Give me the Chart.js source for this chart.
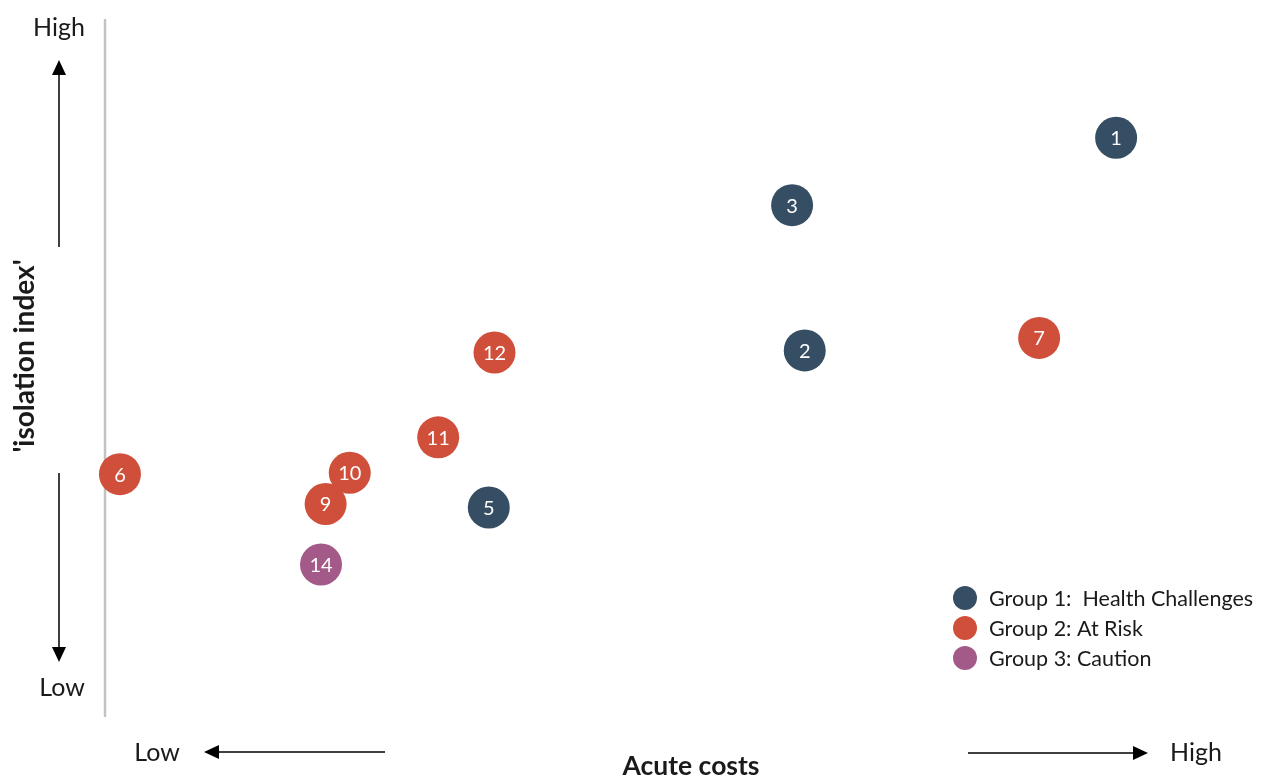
<!DOCTYPE html>
<html>
<head>
<meta charset="utf-8">
<title>Isolation index vs acute costs</title>
<script src="https://cdn.jsdelivr.net/npm/chart.js@4.4.1/dist/chart.umd.min.js"></script>
<style>
  html, body { margin: 0; padding: 0; background: #ffffff; }
  canvas { display: block; }
</style>
</head>
<body>
<canvas id="chart" width="1275" height="778"></canvas>
<script>
// cluster numbers and their positions (0-100 on both scales)
const group1Ids = ['1', '3', '2', '5'];
const group1Cost = [88.0, 59.8, 60.9, 33.4];
const group1Isolation = [83.2, 73.5, 52.6, 30.0];

const group2Ids = ['7', '12', '11', '6', '10', '9'];
const group2Cost = [81.3, 33.9, 29.0, 1.3, 21.3, 19.2];
const group2Isolation = [54.4, 52.3, 40.1, 34.8, 35.0, 30.5];

const group3Ids = ['14'];
const group3Cost = [18.8];
const group3Isolation = [21.8];

const groupNames = ['Group 1:  Health Challenges', 'Group 2: At Risk', 'Group 3: Caution'];
const groupColors = ['#364e63', '#d04f3a', '#a45a88'];

const FONT = 'Lato, Calibri, "Open Sans", sans-serif';

const toPoints = (xs, ys, ids) => xs.map((x, i) => ({ x: x, y: ys[i], id: ids[i] }));

const datasets = [
  toPoints(group1Cost, group1Isolation, group1Ids),
  toPoints(group2Cost, group2Isolation, group2Ids),
  toPoints(group3Cost, group3Isolation, group3Ids),
].map((pts, i) => ({
  label: groupNames[i],
  data: pts,
  backgroundColor: groupColors[i],
  borderColor: groupColors[i],
  pointRadius: 21,
  pointHoverRadius: 21,
  borderWidth: 0,
  clip: false,
}));

function arrowHead(ctx, x, y, dir) {
  // dir: 'up' | 'down' | 'left' | 'right', (x, y) is the tip
  const len = 15, half = 7;
  ctx.beginPath();
  if (dir === 'up') { ctx.moveTo(x, y); ctx.lineTo(x - half, y + len); ctx.lineTo(x + half, y + len); }
  if (dir === 'down') { ctx.moveTo(x, y); ctx.lineTo(x - half, y - len); ctx.lineTo(x + half, y - len); }
  if (dir === 'left') { ctx.moveTo(x, y); ctx.lineTo(x + len, y - half); ctx.lineTo(x + len, y + half); }
  if (dir === 'right') { ctx.moveTo(x, y); ctx.lineTo(x - len, y - half); ctx.lineTo(x - len, y + half); }
  ctx.closePath();
  ctx.fill();
}

function line(ctx, x1, y1, x2, y2) {
  ctx.beginPath();
  ctx.moveTo(x1, y1);
  ctx.lineTo(x2, y2);
  ctx.stroke();
}

// axis line, arrows, axis words and the legend
const decorations = {
  id: 'decorations',
  beforeDatasetsDraw(chart) {
    const ctx = chart.ctx;
    const x0 = chart.scales.x.getPixelForValue(0);
    ctx.save();
    ctx.strokeStyle = '#c3c3c3';
    ctx.lineWidth = 2.5;
    line(ctx, x0, 19, x0, 717);
    ctx.restore();
  },
  afterDraw(chart) {
    const ctx = chart.ctx;
    ctx.save();
    ctx.fillStyle = '#000000';
    ctx.strokeStyle = '#000000';
    ctx.lineWidth = 1.5;

    // vertical arrows
    line(ctx, 59, 74, 59, 247);
    arrowHead(ctx, 59, 60, 'up');
    line(ctx, 59, 473, 59, 648);
    arrowHead(ctx, 59, 662, 'down');

    // horizontal arrows
    line(ctx, 218, 752, 385, 752);
    arrowHead(ctx, 204, 752, 'left');
    line(ctx, 968, 753, 1134, 753);
    arrowHead(ctx, 1148, 753, 'right');

    ctx.fillStyle = '#1a1a1a';
    ctx.textBaseline = 'middle';
    ctx.textAlign = 'center';
    ctx.font = '25px ' + FONT;
    ctx.fillText('High', 59, 28);
    ctx.fillText('Low', 62, 688);
    ctx.fillText('Low', 157, 753);
    ctx.fillText('High', 1196, 753);

    ctx.font = 'bold 26.5px ' + FONT;
    ctx.fillText('Acute costs', 691, 766);
    ctx.save();
    ctx.translate(25, 356);
    ctx.rotate(-Math.PI / 2);
    ctx.font = 'bold 28px ' + FONT;
    ctx.fillText("'isolation index'", 0, 0);
    ctx.restore();

    // legend
    ctx.textAlign = 'left';
    ctx.font = '21.5px ' + FONT;
    groupNames.forEach((name, i) => {
      const y = 598 + i * 30;
      ctx.fillStyle = groupColors[i];
      ctx.beginPath();
      ctx.arc(965, y, 12, 0, Math.PI * 2);
      ctx.fill();
      ctx.fillStyle = '#1a1a1a';
      ctx.fillText(name, 989, y + 1);
    });
    ctx.restore();
  },
};

// white numbers inside each bubble
const bubbleLabels = {
  id: 'bubbleLabels',
  afterDatasetsDraw(chart) {
    const ctx = chart.ctx;
    ctx.save();
    ctx.fillStyle = '#ffffff';
    ctx.font = '20px ' + FONT;
    ctx.textAlign = 'center';
    ctx.textBaseline = 'middle';
    chart.data.datasets.forEach((ds, di) => {
      chart.getDatasetMeta(di).data.forEach((el, i) => {
        ctx.fillText(ds.data[i].id, el.x, el.y + 1);
      });
    });
    ctx.restore();
  },
};

new Chart(document.getElementById('chart'), {
  type: 'scatter',
  data: { datasets: datasets },
  options: {
    responsive: false,
    animation: false,
    layout: { padding: { left: 105, top: 18, right: 20, bottom: 62 } },
    scales: {
      x: { type: 'linear', min: 0, max: 100, display: false },
      y: { type: 'linear', min: 0, max: 100, display: false },
    },
    plugins: {
      legend: { display: false },
      tooltip: { enabled: false },
    },
  },
  plugins: [decorations, bubbleLabels],
});
</script>
</body>
</html>
